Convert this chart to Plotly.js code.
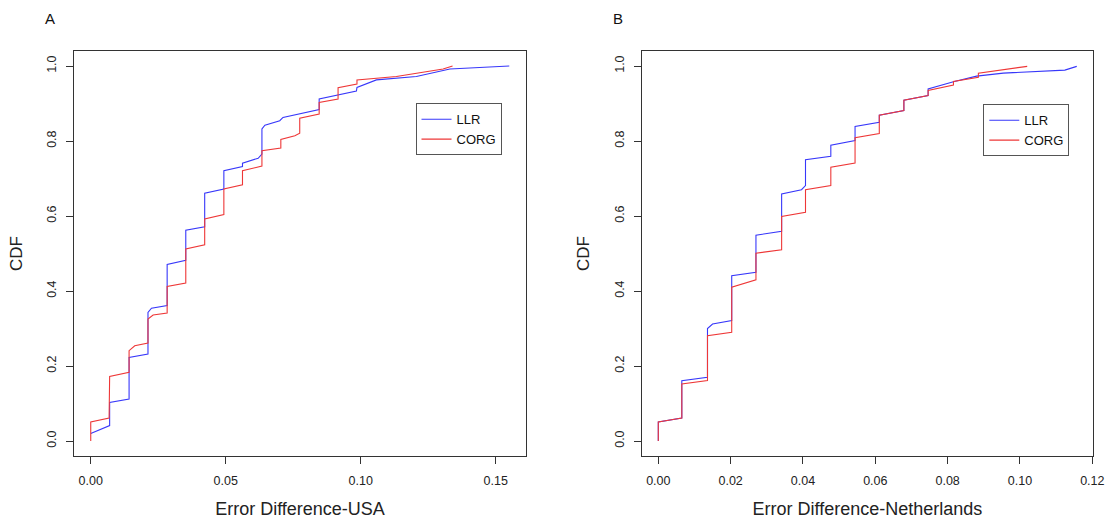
<!DOCTYPE html>
<html>
<head>
<meta charset="utf-8">
<script src="https://cdn.plot.ly/plotly-3.0.1.min.js"></script>
<style>
  html, body { margin: 0; padding: 0; background: #fff; }
  #chart { width: 1107px; height: 519px; }
</style>
</head>
<body>
<div id="chart"></div>
<script>
// ---- Panel A: USA ----
const usaLlrX = [0, 0.0070, 0.0070, 0.0142, 0.0142, 0.0212, 0.0212, 0.0225, 0.0283, 0.0283, 0.0352, 0.0352, 0.0422, 0.0422, 0.0493, 0.0493, 0.0562, 0.0562, 0.0620, 0.0634, 0.0634, 0.0645, 0.0700, 0.0712, 0.0846, 0.0846, 0.0984, 0.0986, 0.1058, 0.1206, 0.1330, 0.1550];
const usaLlrY = [0.020, 0.041, 0.103, 0.112, 0.223, 0.232, 0.343, 0.354, 0.361, 0.471, 0.482, 0.562, 0.571, 0.661, 0.672, 0.721, 0.732, 0.741, 0.754, 0.765, 0.832, 0.842, 0.854, 0.863, 0.884, 0.912, 0.933, 0.943, 0.963, 0.972, 0.992, 1.000];
const usaCorgX = [0, 0, 0.0068, 0.0070, 0.0142, 0.0142, 0.0163, 0.0212, 0.0212, 0.0231, 0.0283, 0.0283, 0.0352, 0.0352, 0.0422, 0.0422, 0.0493, 0.0493, 0.0562, 0.0562, 0.0634, 0.0634, 0.0704, 0.0704, 0.0756, 0.0774, 0.0774, 0.0846, 0.0846, 0.0916, 0.0916, 0.0986, 0.0986, 0.1132, 0.1305, 0.1340];
const usaCorgY = [0.000, 0.051, 0.061, 0.172, 0.183, 0.241, 0.254, 0.261, 0.325, 0.336, 0.341, 0.412, 0.421, 0.512, 0.523, 0.592, 0.604, 0.672, 0.683, 0.721, 0.733, 0.774, 0.781, 0.804, 0.814, 0.821, 0.861, 0.872, 0.903, 0.912, 0.942, 0.952, 0.963, 0.972, 0.992, 1.000];

// ---- Panel B: Netherlands ----
const nlLlrX = [0, 0, 0.0065, 0.0065, 0.0136, 0.0136, 0.0150, 0.0203, 0.0203, 0.0270, 0.0270, 0.0341, 0.0341, 0.0396, 0.0407, 0.0407, 0.0477, 0.0477, 0.0544, 0.0544, 0.0611, 0.0611, 0.0679, 0.0679, 0.0746, 0.0746, 0.0816, 0.0880, 0.0954, 0.1124, 0.1157];
const nlLlrY = [0.000, 0.051, 0.061, 0.161, 0.170, 0.300, 0.312, 0.321, 0.441, 0.450, 0.549, 0.559, 0.659, 0.670, 0.681, 0.750, 0.759, 0.789, 0.801, 0.839, 0.850, 0.869, 0.881, 0.909, 0.921, 0.939, 0.958, 0.973, 0.981, 0.989, 0.999];
const nlCorgX = [0, 0, 0.0065, 0.0065, 0.0136, 0.0136, 0.0203, 0.0203, 0.0270, 0.0270, 0.0341, 0.0341, 0.0407, 0.0407, 0.0477, 0.0477, 0.0544, 0.0544, 0.0611, 0.0611, 0.0679, 0.0679, 0.0746, 0.0746, 0.0816, 0.0816, 0.0885, 0.0885, 0.1020];
const nlCorgY = [0.000, 0.051, 0.061, 0.152, 0.161, 0.281, 0.290, 0.410, 0.430, 0.501, 0.510, 0.599, 0.610, 0.670, 0.681, 0.730, 0.741, 0.809, 0.820, 0.869, 0.881, 0.909, 0.921, 0.935, 0.949, 0.959, 0.970, 0.981, 0.999];

const seriesNames = ["LLR", "CORG"];
const panelLabels = ["A", "B"];
const xTitles = ["Error Difference-USA", "Error Difference-Netherlands"];
const yTitle = "CDF";

const blue = "rgb(55,55,250)";
const red = "rgb(238,55,55)";
const FONT = "Liberation Sans, Arial, Helvetica, sans-serif";

const traces = [
  {x: usaLlrX, y: usaLlrY, name: seriesNames[0], xaxis: "x", yaxis: "y", legend: "legend", mode: "lines", line: {color: blue, width: 1.1}},
  {x: usaCorgX, y: usaCorgY, name: seriesNames[1], xaxis: "x", yaxis: "y", legend: "legend", mode: "lines", line: {color: red, width: 1.1}},
  {x: nlLlrX, y: nlLlrY, name: seriesNames[0], xaxis: "x2", yaxis: "y2", legend: "legend2", mode: "lines", line: {color: blue, width: 1.1}},
  {x: nlCorgX, y: nlCorgY, name: seriesNames[1], xaxis: "x2", yaxis: "y2", legend: "legend2", mode: "lines", line: {color: red, width: 1.1}}
];

const axisCommon = {
  showline: true, mirror: true, linecolor: "#333", linewidth: 1,
  ticks: "outside", ticklen: 7, tickcolor: "#333", tickwidth: 1,
  showgrid: false, zeroline: false,
  tickfont: {family: FONT, size: 12.5, color: "#222"}
};

const W = 1019;
const layout = {
  width: 1107, height: 519,
  margin: {l: 74, r: 14, t: 51, b: 63},
  paper_bgcolor: "#fff", plot_bgcolor: "#fff",
  font: {family: FONT, color: "#222"},
  showlegend: true,
  xaxis: Object.assign({}, axisCommon, {
    domain: [0, 452 / W], anchor: "y",
    range: [-0.0062, 0.1612], tickmode: "array",
    tickvals: [0, 0.05, 0.10, 0.15], tickformat: ".2f",
    ticklabelstandoff: 6,
    title: {text: xTitles[0], font: {family: FONT, size: 18, color: "#222"}, standoff: 15}
  }),
  yaxis: Object.assign({}, axisCommon, {
    domain: [0, 1], anchor: "x",
    range: [-0.04, 1.04], tickmode: "array",
    tickvals: [0, 0.2, 0.4, 0.6, 0.8, 1.0], tickformat: ".1f", tickangle: -90,
    ticklabelstandoff: 5,
    title: {text: yTitle, font: {family: FONT, size: 17, color: "#222"}, standoff: 18}
  }),
  xaxis2: Object.assign({}, axisCommon, {
    domain: [(641.7 - 74) / W, 1], anchor: "y2",
    range: [-0.00459, 0.12019], tickmode: "array",
    tickvals: [0, 0.02, 0.04, 0.06, 0.08, 0.10, 0.12], tickformat: ".2f",
    ticklabelstandoff: 6,
    title: {text: xTitles[1], font: {family: FONT, size: 18, color: "#222"}, standoff: 15}
  }),
  yaxis2: Object.assign({}, axisCommon, {
    domain: [0, 1], anchor: "x2",
    range: [-0.04, 1.04], tickmode: "array",
    tickvals: [0, 0.2, 0.4, 0.6, 0.8, 1.0], tickformat: ".1f", tickangle: -90,
    ticklabelstandoff: 5,
    title: {text: yTitle, font: {family: FONT, size: 17, color: "#222"}, standoff: 18}
  }),
  legend: {
    x: (415.5 - 74) / W, y: 1 - (103.3 - 51) / 405, xanchor: "left", yanchor: "top",
    bordercolor: "#555", borderwidth: 1, bgcolor: "#fff",
    font: {family: FONT, size: 13, color: "#111"}, itemwidth: 30
  },
  legend2: {
    x: (983.3 - 74) / W, y: 1 - (104.3 - 51) / 405, xanchor: "left", yanchor: "top",
    bordercolor: "#555", borderwidth: 1, bgcolor: "#fff",
    font: {family: FONT, size: 13, color: "#111"}, itemwidth: 30
  },
  annotations: [
    {text: panelLabels[0], xref: "paper", yref: "paper", x: (50 - 74) / W, y: 1 + (51 - 19) / 405,
     xanchor: "center", yanchor: "middle", showarrow: false, font: {family: FONT, size: 15, color: "#111"}},
    {text: panelLabels[1], xref: "paper", yref: "paper", x: (618 - 74) / W, y: 1 + (51 - 19) / 405,
     xanchor: "center", yanchor: "middle", showarrow: false, font: {family: FONT, size: 15, color: "#111"}}
  ]
};

Plotly.newPlot("chart", traces, layout, {displayModeBar: false, staticPlot: true});
</script>
</body>
</html>
